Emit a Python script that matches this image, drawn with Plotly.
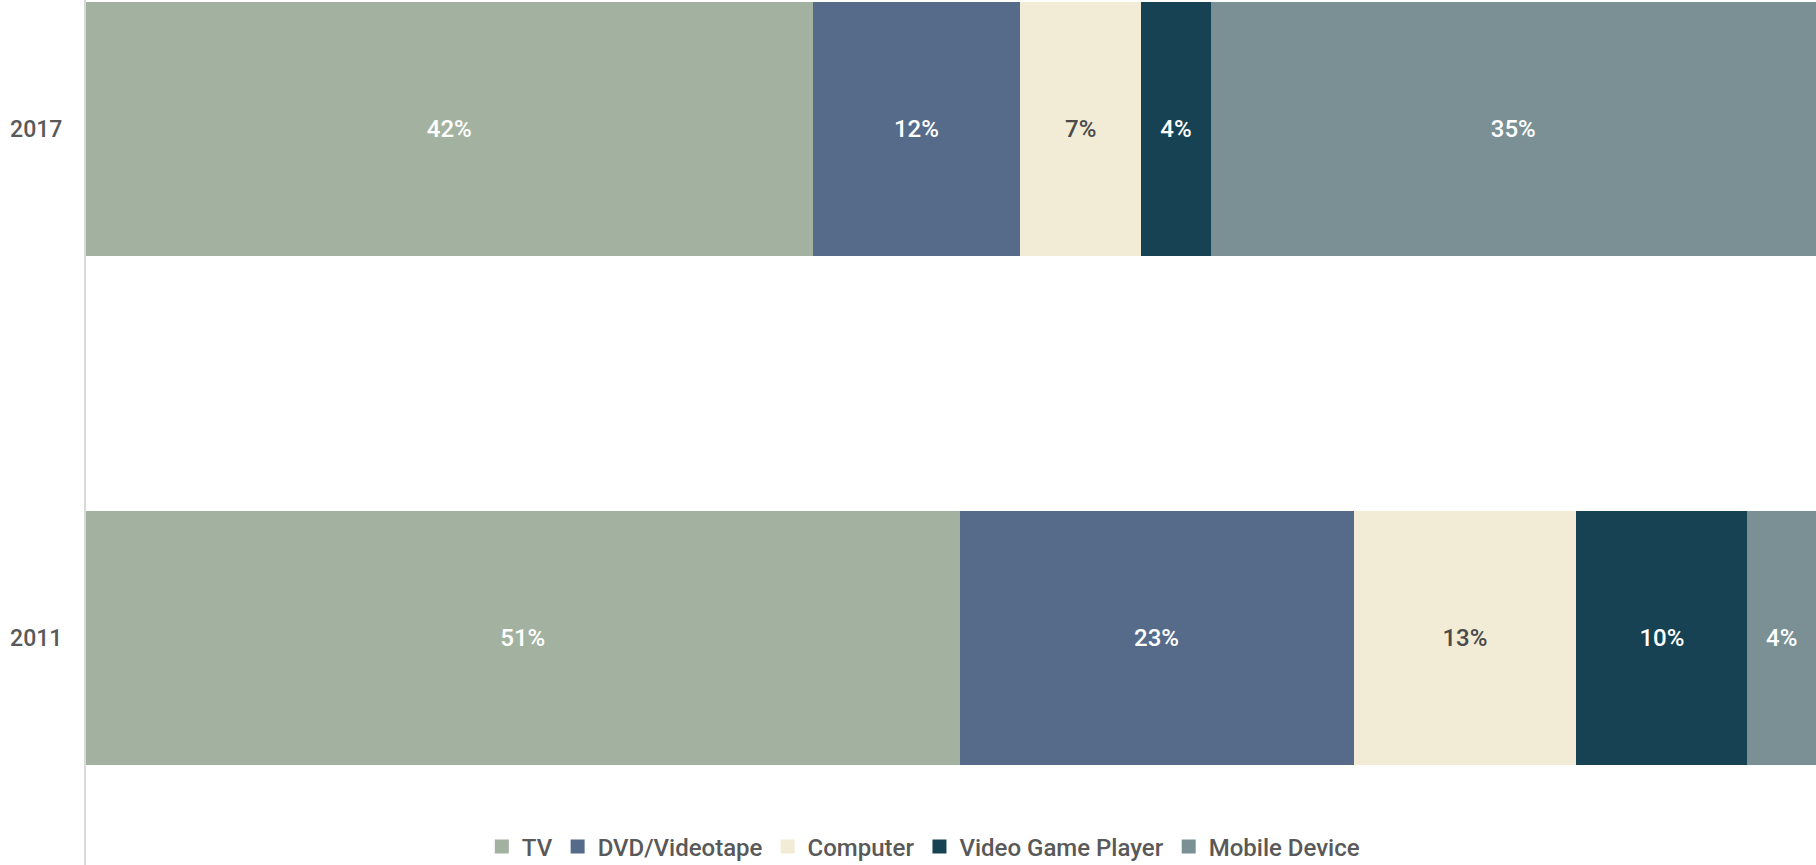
import plotly.graph_objects as go

years = ["2011", "2017"]
devices = ["TV", "DVD/Videotape", "Computer", "Video Game Player", "Mobile Device"]
share_2011 = [51, 23, 13, 10, 4]
share_2017 = [42, 12, 7, 4, 35]
colors = ["#a3b2a0", "#566b8a", "#f2ecd7", "#164254", "#7a9095"]
label_colors = ["#ffffff", "#ffffff", "#4a4a4a", "#ffffff", "#ffffff"]

FONT = "Roboto, Arial, sans-serif"

fig = go.Figure()
for i, dev in enumerate(devices):
    vals = [share_2011[i], share_2017[i]]
    fig.add_trace(go.Bar(
        name=dev,
        legendgroup=dev,
        showlegend=False,
        y=years,
        x=vals,
        orientation="h",
        marker=dict(color=colors[i], line=dict(width=0)),
        text=[f"{v}%" for v in vals],
        textposition="inside",
        insidetextanchor="middle",
        textangle=0,
        textfont=dict(family=FONT, size=24, weight=500, color=label_colors[i]),
        width=0.5,
        hoverinfo="skip",
    ))

# legend entries with larger square swatches
for i, dev in enumerate(devices):
    fig.add_trace(go.Scatter(
        name=dev,
        legendgroup=dev,
        x=[None],
        y=[None],
        mode="markers",
        marker=dict(symbol="square", size=14, color=colors[i]),
        hoverinfo="skip",
    ))

fig.update_layout(
    width=1816,
    height=865,
    barmode="stack",
    barnorm="percent",
    paper_bgcolor="white",
    plot_bgcolor="white",
    margin=dict(l=86, r=0, t=0, b=0, autoexpand=False),
    font=dict(family=FONT, color="#595959"),
    showlegend=True,
    legend=dict(
        orientation="h",
        xref="paper",
        yref="paper",
        x=0.484,
        xanchor="center",
        y=0.021,
        yanchor="middle",
        bgcolor="rgba(0,0,0,0)",
        itemwidth=30,
        font=dict(family=FONT, size=24, weight=500, color="#595959"),
        traceorder="normal",
        itemclick=False,
    ),
    xaxis=dict(
        range=[0, 100],
        showgrid=False,
        showticklabels=False,
        zeroline=False,
        showline=False,
    ),
    yaxis=dict(
        type="category",
        categoryorder="array",
        categoryarray=years,
        range=[-0.446, 1.2534],
        showgrid=False,
        zeroline=False,
        showline=True,
        linecolor="#d9d9d9",
        linewidth=2,
        ticks="",
        ticklabelstandoff=17,
        tickfont=dict(family=FONT, size=23, weight=500, color="#595959"),
    ),
)

fig.write_html("out.html")
